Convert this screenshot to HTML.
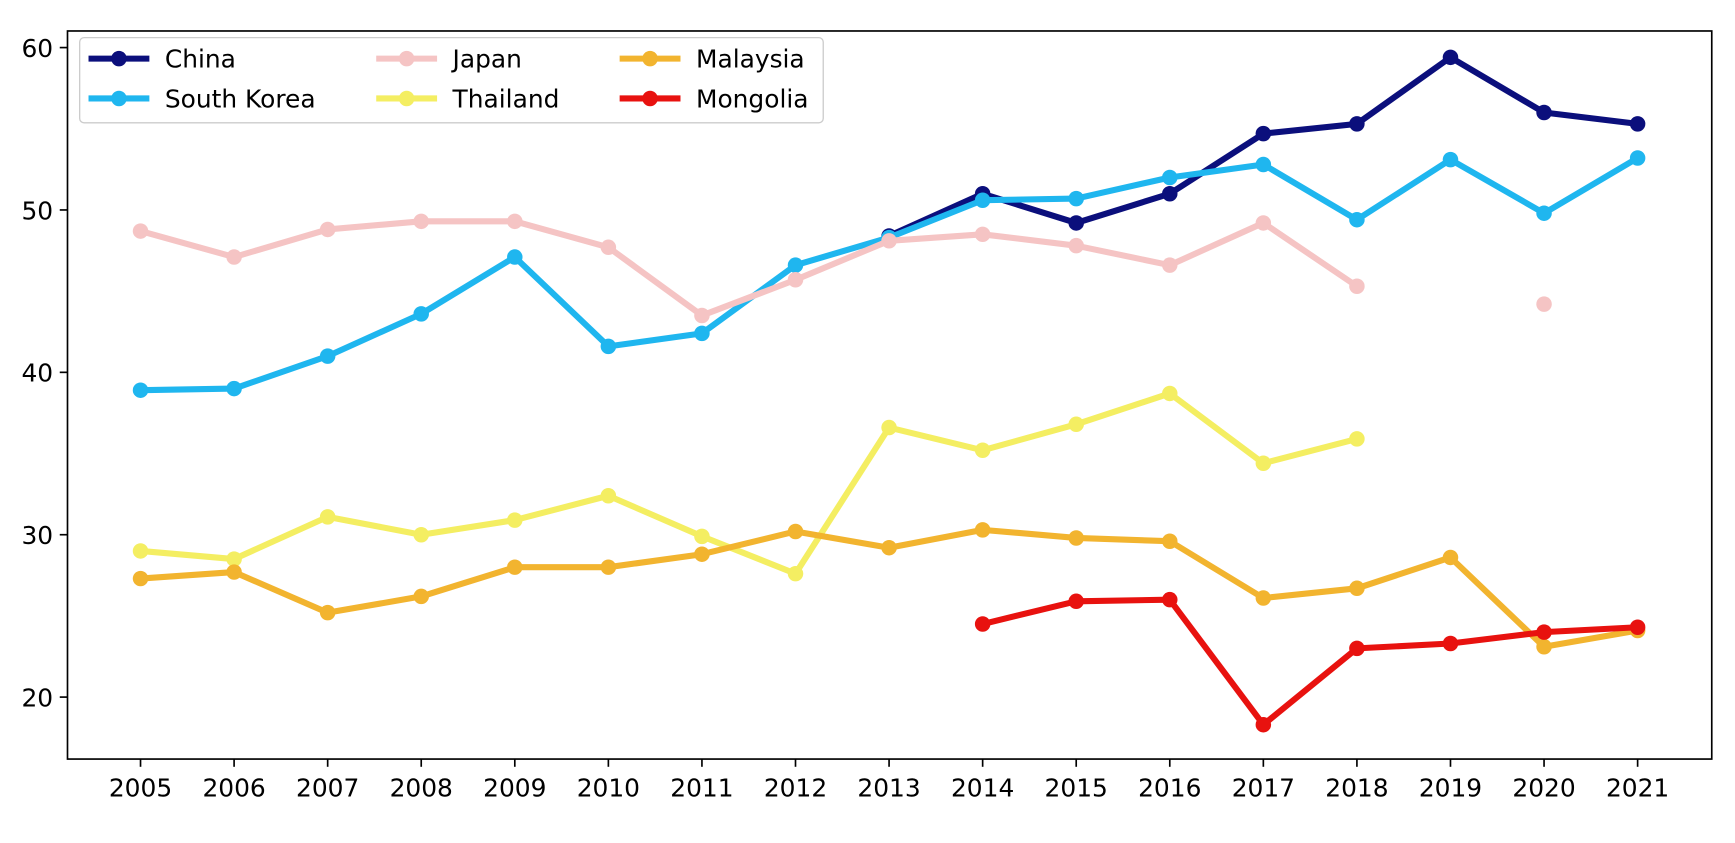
<!DOCTYPE html>
<html><head><meta charset="utf-8"><style>
body{margin:0;background:#fff;}
svg text{font-family:"DejaVu Sans","Liberation Sans",sans-serif;}
</style></head><body>
<svg id="chart" width="1735" height="838" xmlns="http://www.w3.org/2000/svg">
<rect x="0" y="0" width="1735" height="838" fill="#fff"/>
<g transform="scale(1.1065)">
<g id="grid"></g>
<g id="series"></g>
<rect x="61" y="28" width="1486" height="658" fill="none" stroke="#000" stroke-width="1.5"/>
<g id="legend"></g>
</g>
</svg>
<script>
const years = [2005,2006,2007,2008,2009,2010,2011,2012,2013,2014,2015,2016,2017,2018,2019,2020,2021];
const yTicks = [20,30,40,50,60];
const seriesNames = ["China","South Korea","Japan","Thailand","Malaysia","Mongolia"];
const seriesColors = ["#0b0f7c","#1fb6ef","#f5c4c4","#f4ee62","#f2b42f","#e8120f"];
const china = [null,null,null,null,null,null,null,null,48.4,51.0,49.2,51.0,54.7,55.3,59.4,56.0,55.3];
const southKorea = [38.9,39.0,41.0,43.6,47.1,41.6,42.4,46.6,48.3,50.6,50.7,52.0,52.8,49.4,53.1,49.8,53.2];
const japan = [48.7,47.1,48.8,49.3,49.3,47.7,43.5,45.7,48.1,48.5,47.8,46.6,49.2,45.3,null,44.2,null];
const thailand = [29.0,28.5,31.1,30.0,30.9,32.4,29.9,27.6,36.6,35.2,36.8,38.7,34.4,35.9,null,null,null];
const malaysia = [27.3,27.7,25.2,26.2,28.0,28.0,28.8,30.2,29.2,30.3,29.8,29.6,26.1,26.7,28.6,23.1,24.1];
const mongolia = [null,null,null,null,null,null,null,null,null,24.5,25.9,26.0,18.3,23.0,23.3,24.0,24.3];
const allSeries = [china,southKorea,japan,thailand,malaysia,mongolia];

const NS="http://www.w3.org/2000/svg";
function xs(i){return 127+(1480-127)*i/(years.length-1);}
function ys(v){return 630-(v-20)*(630-43)/40;}
function mk(tag,attrs,parent){const e=document.createElementNS(NS,tag);for(const k in attrs)e.setAttribute(k,attrs[k]);parent.appendChild(e);return e;}
const grid=document.getElementById('grid'), ser=document.getElementById('series'), leg=document.getElementById('legend');
years.forEach((y,i)=>{
  const t=mk('line',{x1:xs(i),x2:xs(i),y1:686,y2:693,stroke:'#000','stroke-width':1.5},grid);
  
  
  const l=mk('text',{x:xs(i),y:720,'text-anchor':'middle','font-size':22.5},grid);l.textContent=y;
  
  
});
yTicks.forEach(v=>{
  const t=mk('line',{x1:54,x2:61,y1:ys(v),y2:ys(v),stroke:'#000','stroke-width':1.5},grid);
  
  
  const l=mk('text',{x:48,y:ys(v)+8.5,'text-anchor':'end','font-size':22.5},grid);l.textContent=v;
  
  
});
allSeries.forEach((data,s)=>{
  const g=mk('g',{},ser);
  
  
  let segs=[],cur=[];
  data.forEach((v,i)=>{if(v==null){if(cur.length)segs.push(cur);cur=[];}else cur.push([xs(i),ys(v)]);});
  if(cur.length)segs.push(cur);
  segs.forEach(sg=>{if(sg.length>1){const p=mk('polyline',{points:sg.map(p=>p.join(',')).join(' '),fill:'none',stroke:seriesColors[s],'stroke-width':5.5,'stroke-linejoin':'round'},g);
    
    }});
  data.forEach((v,i)=>{if(v==null)return;const c=mk('circle',{cx:xs(i),cy:ys(v),r:7,fill:seriesColors[s]},g);
    
    });
});
const lb=mk('rect',{x:72,y:34,width:672,height:77,rx:4,fill:'#fff',stroke:'#ccc','stroke-width':1.2},leg);


const colX=[80,340,560], rowY=[53,89];
seriesNames.forEach((n,s)=>{
  const cx=colX[Math.floor(s/2)], cy=rowY[s%2];
  const g=mk('g',{},leg);
  
  
  mk('line',{x1:cx,x2:cx+55,y1:cy,y2:cy,stroke:seriesColors[s],'stroke-width':5.5},g);
  mk('circle',{cx:cx+27.5,cy:cy,r:7,fill:seriesColors[s]},g);
  const t=mk('text',{x:cx+69,y:cy+8,'font-size':22.5},g);t.textContent=n;
});
</script>
</body></html>
